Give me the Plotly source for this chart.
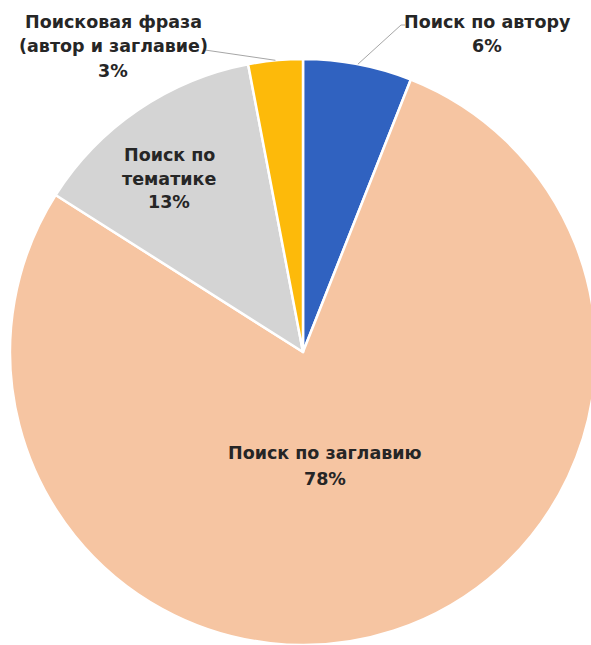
import math
import plotly.graph_objects as go

# ---- data ----
labels = ["Поиск по автору", "Поиск по заглавию", "Поиск по тематике", "Поисковая фраза (автор и заглавие)"]
values = [6, 78, 13, 3]
colors = ["#3062C0", "#F6C5A2", "#D4D4D4", "#FDBA0A"]
# label lines as displayed (line-broken text)
label_lines = [
    ["Поиск по автору"],
    ["Поиск по заглавию"],
    ["Поиск по", "тематике"],
    ["Поисковая фраза", "(автор и заглавие)"],
]

# ---- geometry (pixels in the page) ----
W, H = 620, 700
CX, CY, R = 303, 352, 293

def fx(x):
    return x / W

def fy(y):
    return 1 - y / H

# label block centres (first line centre y) and line spacing
label_pos = [(487, 22.5, 24), (325, 453, 25.5), (169, 155, 23.5), (113, 22, 24.5)]

fig = go.Figure(go.Pie(
    labels=labels,
    values=values,
    sort=False,
    direction="clockwise",
    rotation=0,
    marker=dict(colors=colors, line=dict(color="white", width=2.5)),
    textinfo="none",
    hoverinfo="label+percent",
    showlegend=False,
    domain=dict(x=[fx(CX - R), fx(CX + R)], y=[fy(CY + R), fy(CY - R)]),
))

font = dict(family="DejaVu Sans", size=17.5, color="#262626", weight="bold")
annotations = []
for (lines, v, (lx, ly, sp)) in zip(label_lines, values, label_pos):
    all_lines = lines + [f"{v}%"]
    for i, t in enumerate(all_lines):
        annotations.append(dict(
            x=fx(lx), y=fy(ly + i * sp), xref="paper", yref="paper",
            text=t, showarrow=False, xanchor="center", yanchor="middle",
            font=font,
        ))

# leader lines from slice mid-angle on the rim to the outside labels
total = sum(values)
cum = 0
mids = []
for v in values:
    mids.append((cum + v / 2) / total * 2 * math.pi)
    cum += v

def rim(a):
    return CX + R * math.sin(a), CY - R * math.cos(a)

shapes = []
hx, hy = rim(mids[0])
shapes.append(dict(type="path", xref="paper", yref="paper",
                   path=f"M {fx(hx)},{fy(hy)} L {fx(401)},{fy(25)} L {fx(405)},{fy(25)}",
                   line=dict(color="#A6A6A6", width=1)))
hx, hy = rim(mids[3])
shapes.append(dict(type="line", xref="paper", yref="paper",
                   x0=fx(hx), y0=fy(hy), x1=fx(205), y1=fy(50),
                   line=dict(color="#A6A6A6", width=1)))

fig.update_layout(
    width=W, height=H,
    margin=dict(l=0, r=0, t=0, b=0),
    paper_bgcolor="white",
    plot_bgcolor="white",
    annotations=annotations,
    shapes=shapes,
)

fig.write_html("out.html", config={"displayModeBar": False},
               post_script="document.body.style.margin='0';document.body.style.overflow='hidden';")
